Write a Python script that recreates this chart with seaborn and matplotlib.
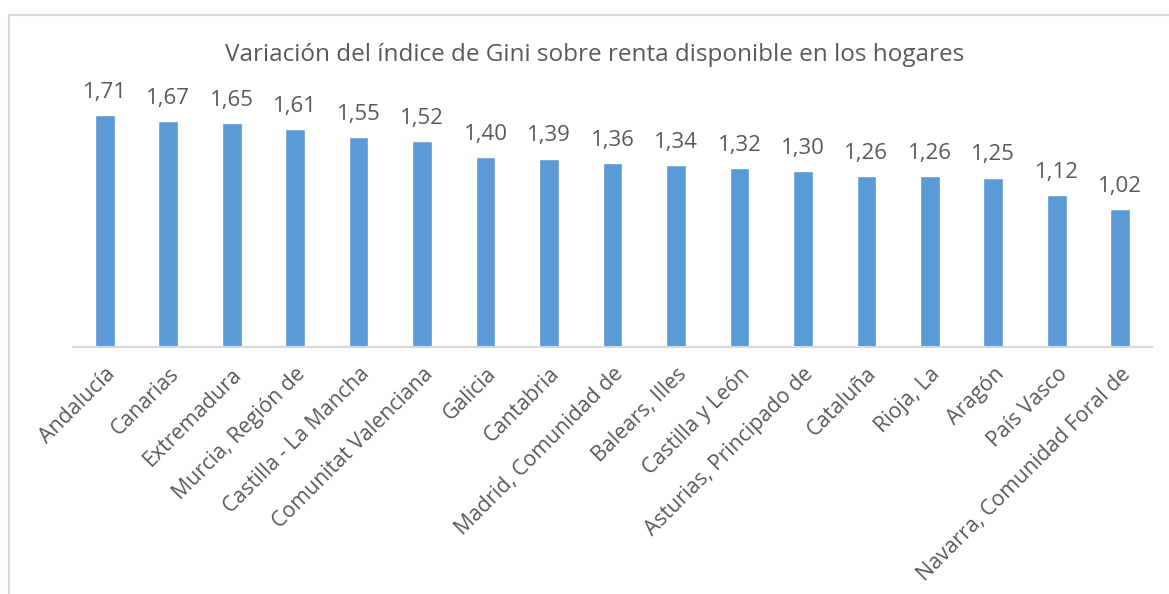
import pandas as pd
import numpy as np
import matplotlib.pyplot as plt
import seaborn as sns
from matplotlib.patches import Rectangle

regiones = ['Andalucía', 'Canarias', 'Extremadura', 'Murcia, Región de',
            'Castilla - La Mancha', 'Comunitat Valenciana', 'Galicia', 'Cantabria',
            'Madrid, Comunidad de', 'Balears, Illes', 'Castilla y León',
            'Asturias, Principado de', 'Cataluña', 'Rioja, La', 'Aragón',
            'País Vasco', 'Navarra, Comunidad Foral de']
gini = [1.71, 1.67, 1.65, 1.61, 1.55, 1.52, 1.40, 1.39, 1.36, 1.34, 1.32,
        1.30, 1.26, 1.26, 1.25, 1.12, 1.02]

df = pd.DataFrame({'region': regiones, 'gini': gini})

sns.set_style('white')
plt.rcParams['font.family'] = ['Open Sans', 'DejaVu Sans']
gris = '#595959'

fig = plt.figure(figsize=(11.69, 5.94), dpi=100)
ax = fig.add_axes([73/1169, 1 - 347/594, (1152 - 73)/1169, (347 - 76)/594])

sns.barplot(data=df, x='region', y='gini', color='#5B9BD5', width=0.31,
            saturation=1, ax=ax)

for i, v in enumerate(gini):
    ax.text(i, v + 0.09, f'{v:.2f}'.replace('.', ','), ha='center', va='bottom',
            fontsize=16, color=gris)

ax.set_xlim(-0.5, len(regiones) - 0.5)
ax.set_ylim(0, 2.0)
ax.set_xlabel('')
ax.set_ylabel('')
ax.set_yticks([])
ax.tick_params(axis='x', length=0, pad=12)
ax.set_xticks(range(len(regiones)))
ax.set_xticklabels(regiones, rotation=45, ha='right', rotation_mode='anchor',
                   fontsize=15.3, color=gris)
for s in ['top', 'right', 'left']:
    ax.spines[s].set_visible(False)
ax.spines['bottom'].set_color('#D9D9D9')
ax.spines['bottom'].set_linewidth(1.5)

fig.text(595/1169, 1 - 55/594, 'Variación del índice de Gini sobre renta disponible en los hogares',
         ha='center', va='center', fontsize=17.5, color=gris)

# marco del gráfico (recortado a derecha y abajo)
fig.patches.append(Rectangle((9/1169, -0.1), 1.2, 1 - 15/594 + 0.1,
                             transform=fig.transFigure, fill=False,
                             edgecolor='#D9D9D9', linewidth=1.5))

fig.savefig('out.png', dpi=100)
